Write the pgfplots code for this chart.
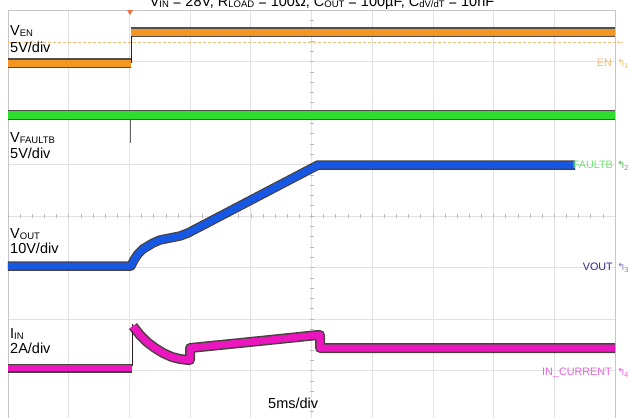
\documentclass[border=0pt]{standalone}
\usepackage{pgfplots}
\pgfplotsset{compat=1.18}
\usepackage{fontspec}
\setmainfont{Liberation Sans}
\newfontfamily\dejavu{DejaVu Sans}
\definecolor{cEN}{RGB}{242,150,36}
\definecolor{cFT}{RGB}{46,222,46}
\definecolor{cVO}{RGB}{22,88,228}
\definecolor{cIN}{RGB}{236,22,190}
\definecolor{lEN}{RGB}{240,188,120}
\definecolor{lFT}{RGB}{110,228,110}
\definecolor{lVO}{RGB}{48,40,140}
\definecolor{lIN}{RGB}{232,96,222}
\definecolor{gridc}{RGB}{226,226,226}
\definecolor{fringe}{RGB}{40,32,30}
\newcommand{\bigf}{\fontsize{14.5}{16}\selectfont}
\newcommand{\subs}[1]{\raisebox{-0.12em}{\fontsize{9.5}{10}\selectfont #1}}
\newcommand{\smallf}{\fontsize{10.8}{12}\selectfont}
\newcommand{\icon}[1]{{\dejavu\fontsize{10}{10}\selectfont\char"21B0\hspace{-0.15em}\raisebox{-0.25em}{\fontsize{7}{7}\selectfont #1}}}
\begin{document}
\begin{tikzpicture}
\begin{axis}[at={(8pt,-422pt)}, anchor=south west, scale only axis,
  width=607pt, height=412pt, xmin=8, xmax=615, ymin=-422, ymax=-10,
  axis line style={draw=gray!45, line width=0.8pt},
  xtick={68.7,129.4,190.1,250.8,311.5,372.2,432.9,493.6,554.3},
  ytick={-61.5,-113,-164.5,-216,-267.5,-319,-370.5},
  xticklabels={}, yticklabels={}, major tick length=0pt,
  grid=major, grid style={draw=gridc, line width=0.8pt},
  line join=round, line cap=butt]
% center-line minor ticks
\pgfplotsinvokeforeach{0,...,49}{
  \draw[gray!55, line width=0.6pt] (axis cs:{8+#1*12.14},-214) -- (axis cs:{8+#1*12.14},-218);
}
\pgfplotsinvokeforeach{0,...,39}{
  \draw[gray!55, line width=0.6pt] (axis cs:309.5,{-10-#1*10.3}) -- (axis cs:313.5,{-10-#1*10.3});
}
% EN reference dashed line
\addplot[lEN, line width=0.8pt, dash pattern=on 3pt off 2pt] coordinates {(8,-42) (615,-42)};
% EN trace
\addplot[fringe, opacity=0.8, line width=9.5pt] coordinates {(8,-63) (131,-63)};
\addplot[cEN, line width=7pt] coordinates {(8,-63) (131,-63)};
\addplot[fringe, line width=0.8pt] coordinates {(131,-63) (131,-32)};
\addplot[fringe, opacity=0.8, line width=9.5pt] coordinates {(131,-32) (615,-32)};
\addplot[cEN, line width=7pt] coordinates {(131,-32) (615,-32)};
% FAULTB trace
\addplot[fringe, opacity=0.8, line width=10pt] coordinates {(8,-115) (615,-115)};
\addplot[cFT, line width=7.5pt] coordinates {(8,-115) (615,-115)};
\addplot[gray!80!black, line width=0.8pt] coordinates {(130,-119) (130,-143)};
% VOUT trace
\addplot[fringe, opacity=0.85, line width=9.5pt] coordinates {(8,-266) (131,-266) (134,-260) (138,-254) (143,-249) (148,-246) (153,-243) (160,-240) (170,-238) (180,-236) (188,-233) (318,-165) (575,-165)};
\addplot[cVO, line width=7pt] coordinates {(8,-266) (131,-266) (134,-260) (138,-254) (143,-249) (148,-246) (153,-243) (160,-240) (170,-238) (180,-236) (188,-233) (318,-165) (575,-165)};
% IN trace
\addplot[fringe, opacity=0.85, line width=9pt] coordinates {(8,-368) (132,-368)};
\addplot[cIN, line width=6.5pt] coordinates {(8,-368) (132,-368)};
\addplot[fringe, line width=1pt] coordinates {(132,-366) (132,-324)};
\addplot[fringe, opacity=0.85, line width=10pt] coordinates {(133,-326) (136,-330) (140,-335) (147,-342) (155,-348) (163,-353) (172,-357) (180,-359) (188,-360) (190,-360) (190,-348) (250,-342) (318,-335) (320,-335) (320,-348) (615,-348)};
\addplot[cIN, line width=7pt] coordinates {(133,-326) (136,-330) (140,-335) (147,-342) (155,-348) (163,-353) (172,-357) (180,-359) (188,-360) (190,-360) (190,-348) (250,-342) (318,-335) (320,-335) (320,-348) (615,-348)};
\end{axis}
% trigger marker
\fill[fill={rgb,255:red,240;green,110;blue,70}] (127pt,-10pt) -- (133pt,-10pt) -- (130pt,-15pt) -- cycle;
% title (cut at top as in the reference)
\node[anchor=base, inner sep=0pt] at (322pt,-6pt) {\bigf V\subs{IN} = 28V, R\subs{LOAD} = 100Ω, C\subs{OUT} = 100µF, C\subs{dV/dT} = 10nF};
% left labels
\node[anchor=base west, inner sep=0pt] at (10pt,-35pt) {\bigf V\subs{EN}};
\node[anchor=base west, inner sep=0pt] at (10pt,-52pt) {\bigf 5V/div};
\node[anchor=base west, inner sep=0pt] at (10pt,-142pt) {\bigf V\subs{FAULTB}};
\node[anchor=base west, inner sep=0pt] at (10pt,-158pt) {\bigf 5V/div};
\node[anchor=base west, inner sep=0pt] at (10pt,-238pt) {\bigf V\subs{OUT}};
\node[anchor=base west, inner sep=0pt] at (10pt,-253pt) {\bigf 10V/div};
\node[anchor=base west, inner sep=0pt] at (10pt,-338pt) {\bigf I\subs{IN}};
\node[anchor=base west, inner sep=0pt] at (10pt,-353pt) {\bigf 2A/div};
\node[anchor=base west, inner sep=0pt] at (268pt,-408pt) {\bigf 5ms/div};
% right labels
\node[anchor=base east, inner sep=0pt, text=lEN] at (612pt,-66pt) {\smallf EN};
\node[anchor=base east, inner sep=0pt, text=lFT] at (613pt,-168pt) {\smallf FAULTB};
\node[anchor=base east, inner sep=0pt, text=lVO] at (613pt,-270pt) {\smallf VOUT};
\node[anchor=base east, inner sep=0pt, text=lIN] at (612pt,-375pt) {\smallf IN\_CURRENT};
\node[anchor=base west, inner sep=0pt, text=lEN] at (617pt,-45pt) {{\dejavu\fontsize{8}{8}\selectfont ←}};
\node[anchor=base west, inner sep=0pt, text=lEN] at (617pt,-66pt) {\icon{1}};
\node[anchor=base west, inner sep=0pt, text=lFT!80!black] at (617pt,-168pt) {\icon{2}};
\node[anchor=base west, inner sep=0pt, text=lVO!60] at (617pt,-270pt) {\icon{3}};
\node[anchor=base west, inner sep=0pt, text=lIN] at (617pt,-375pt) {\icon{4}};
\pgfresetboundingbox
\useasboundingbox (0pt,0pt) rectangle (630pt,-418pt);
\end{tikzpicture}
\end{document}
